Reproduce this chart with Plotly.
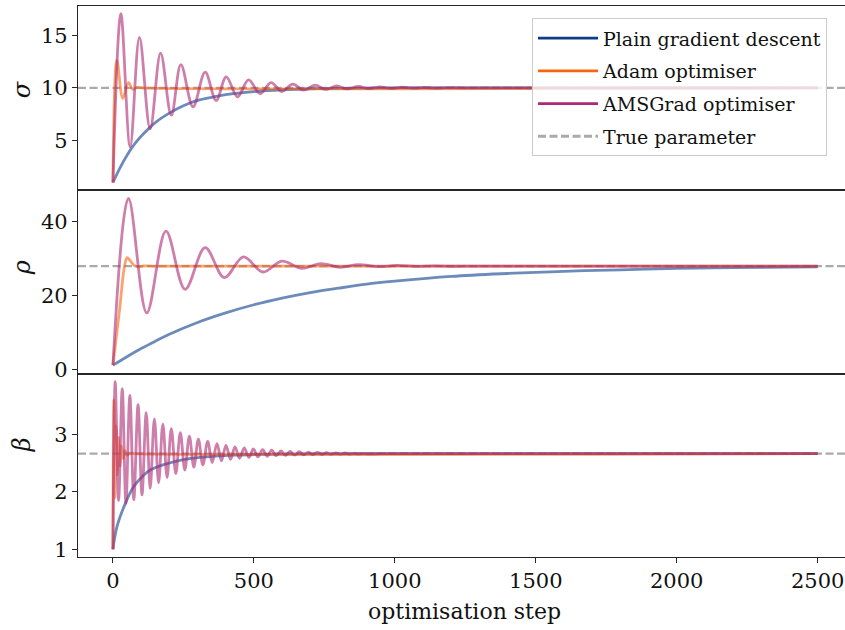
import plotly.graph_objects as go
from plotly.subplots import make_subplots

# ---------------- data ----------------
true_params = [10.0, 28.0, 8.0 / 3.0]
param_labels = ["σ", "ρ", "β"]
series_names = ["Plain gradient descent", "Adam optimiser", "AMSGrad optimiser", "True parameter"]

# sigma panel
gd_sigma_steps = [0, 25, 50, 75, 100, 150, 200, 250, 300, 350, 400, 500, 600, 700, 800, 1000, 2500]
gd_sigma_vals = [1.0, 2.4, 3.6, 4.6, 5.4, 6.7, 7.6, 8.3, 8.8, 9.1, 9.35, 9.65, 9.82, 9.9, 9.95, 9.99, 10.0]

adam_sigma_steps = [0, 14, 35, 55, 70, 85, 100, 2500]
adam_sigma_vals = [1.0, 12.6, 9.0, 10.5, 9.85, 10.05, 10.0, 10.0]

ams_sigma_steps = [0, 28, 61, 94, 132, 169, 207, 241, 284, 327, 366, 402, 442, 481, 522, 561,
                   599, 638, 676, 717, 753, 794, 830, 871, 906, 948, 985, 1025, 1065, 1105,
                   1145, 1185, 1250, 2500]
ams_sigma_vals = [1.0, 17.05, 4.4, 14.8, 6.1, 13.3, 7.4, 12.2, 8.2, 11.5, 8.8, 11.05, 9.15, 10.75,
                  9.45, 10.5, 9.65, 10.35, 9.78, 10.25, 9.85, 10.18, 9.9, 10.13, 9.93, 10.09, 9.95,
                  10.06, 9.97, 10.04, 9.98, 10.02, 10.0, 10.0]

# rho panel
gd_rho_steps = [0, 50, 100, 150, 200, 300, 400, 500, 600, 700, 800, 900, 1000, 1200, 1400, 1600,
                1800, 2000, 2200, 2500]
gd_rho_vals = [1.1, 3.4, 5.6, 7.6, 9.5, 12.7, 15.3, 17.5, 19.3, 20.8, 22.0, 23.1, 23.9, 25.2, 26.0,
               26.6, 27.0, 27.4, 27.6, 27.8]

adam_rho_steps = [0, 24, 40, 50, 60, 75, 90, 110, 140, 2500]
adam_rho_vals = [1.1, 16.5, 27.5, 30.3, 29.6, 28.2, 27.8, 28.05, 28.0, 28.0]

ams_rho_steps = [0, 55, 120, 188, 256, 327, 395, 463, 532, 599, 670, 737, 806, 871, 942, 1007,
                 1075, 1140, 1210, 1280, 1400, 2500]
ams_rho_vals = [1.1, 46.4, 15.3, 37.5, 21.7, 33.0, 24.9, 30.5, 26.4, 29.35, 27.4, 28.7, 27.7, 28.4,
                27.85, 28.2, 27.92, 28.08, 27.97, 28.02, 28.0, 28.0]

# beta panel
gd_beta_steps = [0, 14, 44, 73, 103, 132, 191, 250, 309, 428, 550, 700, 1000, 2500]
gd_beta_vals = [1.0, 1.39, 1.80, 2.09, 2.26, 2.38, 2.49, 2.56, 2.60, 2.64, 2.655, 2.663, 2.666, 2.667]

adam_beta_steps = [0, 3, 7, 11, 15, 20, 25, 30, 36, 42, 50, 60, 75, 2500]
adam_beta_vals = [1.0, 3.6, 1.9, 3.15, 2.3, 2.95, 2.45, 2.8, 2.58, 2.72, 2.64, 2.675, 2.667, 2.667]

ams_beta_steps = [0, 8, 20, 33, 46, 60, 74, 89, 103, 118, 132, 147, 162, 177, 192, 207, 223,
                  239, 255, 271, 287, 303, 319, 336, 352, 369, 385, 401, 417, 433, 449, 466,
                  482, 498, 514, 531, 547, 563, 579, 596, 612, 628, 644, 661, 677, 693, 709,
                  726, 742, 758, 774, 791, 807, 823, 839, 856, 872, 888, 904, 950, 2500]
ams_beta_vals = [1.0, 3.92, 1.85, 3.8, 1.8, 3.68, 1.86, 3.52, 1.95, 3.38, 2.06, 3.27, 2.16, 3.18,
                 2.25, 3.1, 2.32, 3.03, 2.38, 2.97, 2.43, 2.92, 2.47, 2.88, 2.51, 2.84, 2.54, 2.81,
                 2.565, 2.785, 2.585, 2.765, 2.60, 2.75, 2.61, 2.735, 2.62, 2.725, 2.628, 2.715,
                 2.635, 2.706, 2.64, 2.70, 2.645, 2.694, 2.65, 2.689, 2.653, 2.684, 2.656, 2.68,
                 2.659, 2.677, 2.66, 2.674, 2.662, 2.672, 2.663, 2.667, 2.667]

y_ranges = [[0.26, 17.78], [-1.2, 48.6], [0.866, 4.06]]
y_ticks = [[5, 10, 15], [0, 20, 40], [1, 2, 3]]
x_ticks = [0, 500, 1000, 1500, 2000, 2500]

panels = [
    [(gd_sigma_steps, gd_sigma_vals), (adam_sigma_steps, adam_sigma_vals), (ams_sigma_steps, ams_sigma_vals)],
    [(gd_rho_steps, gd_rho_vals), (adam_rho_steps, adam_rho_vals), (ams_rho_steps, ams_rho_vals)],
    [(gd_beta_steps, gd_beta_vals), (adam_beta_steps, adam_beta_vals), (ams_beta_steps, ams_beta_vals)],
]

# ---------------- styling ----------------
solid_colors = ["#0b3d8c", "#f7650f", "#ae2873"]
alpha_colors = ["rgba(11,61,140,0.6)", "rgba(247,101,15,0.6)", "rgba(174,40,115,0.6)"]
true_color = "#aaaaaa"
FONT = "DejaVu Serif, Liberation Serif, Times New Roman, serif"
FS = 21
AX = "#262626"

fig = make_subplots(rows=3, cols=1, shared_xaxes=True, vertical_spacing=0)

for r, panel in enumerate(panels, start=1):
    for k, (xs, ys) in enumerate(panel):
        fig.add_trace(go.Scatter(x=xs, y=ys, mode="lines", showlegend=False,
                                 line=dict(color=alpha_colors[k], width=2.8, shape="spline", smoothing=1.0),
                                 hoverinfo="skip"), row=r, col=1)
    fig.add_hline(y=true_params[r - 1], row=r, col=1, layer="below",
                  line=dict(color=true_color, width=2.4, dash="8px,3.5px"))

# legend-only entries (each in its own group so the group gap spaces them out)
for k in range(3):
    fig.add_trace(go.Scatter(x=[None], y=[None], mode="lines", name=series_names[k],
                             legendgroup="g%d" % k,
                             line=dict(color=solid_colors[k], width=2.8)), row=1, col=1)
fig.add_trace(go.Scatter(x=[None], y=[None], mode="lines", name=series_names[3], legendgroup="g3",
                         line=dict(color=true_color, width=2.8, dash="8px,3.5px")), row=1, col=1)

W, H = 845, 630
L, T, B = 78, 6, 73
plot_h = H - T - B
top_px, d1, d2, bot_px = 6, 190, 373.3, 556.7
def frac(px):
    return (bot_px - px) / plot_h
domains = [[frac(d1), 1.0], [frac(d2), frac(d1)], [0.0, frac(d2)]]

x_range = [-124, 2597]
for r in range(1, 4):
    fig.update_xaxes(row=r, col=1, range=x_range, showline=True, mirror=True, linecolor=AX, linewidth=1.2,
                     showgrid=False, zeroline=False,
                     ticks="outside" if r == 3 else "", ticklen=5, tickwidth=1.1, tickcolor=AX,
                     tickvals=x_ticks, showticklabels=(r == 3), ticklabeloverflow="allow",
                     tickfont=dict(family=FONT, size=FS, color="#111"))
    fig.update_yaxes(row=r, col=1, range=y_ranges[r - 1], domain=domains[r - 1],
                     showline=True, mirror=False, linecolor=AX, linewidth=1.2,
                     showgrid=False, zeroline=False, ticks="outside", ticklen=5, tickwidth=1.1,
                     tickcolor=AX, tickvals=y_ticks[r - 1],
                     tickfont=dict(family=FONT, size=FS, color="#111"))

annotations = []
label_y_px = [90, 268, 445]
for i, lab in enumerate(param_labels):
    annotations.append(dict(text="<i>%s</i>" % lab, xref="paper", yref="paper", x=0, y=frac(label_y_px[i]),
                            xanchor="center", yanchor="middle", xshift=22 - L, textangle=-90,
                            showarrow=False, font=dict(family=FONT, size=FS + 3, color="#111")))
annotations.append(dict(text="optimisation step", xref="paper", yref="paper", x=(465 - L) / (W - L), y=0,
                        xanchor="center", yanchor="middle", yshift=-(611 - bot_px), showarrow=False,
                        font=dict(family=FONT, size=FS + 1, color="#111")))

fig.update_layout(
    width=W, height=H, margin=dict(l=L, r=0, t=T, b=B, autoexpand=False),
    paper_bgcolor="white", plot_bgcolor="white",
    font=dict(family=FONT, size=FS, color="#111"),
    annotations=annotations,
    legend=dict(x=(532 - L) / (W - L), y=frac(18), xanchor="left", yanchor="top",
                bgcolor="rgba(255,255,255,0.8)", bordercolor="#cccccc", borderwidth=1,
                font=dict(family=FONT, size=19, color="#111"), itemwidth=60, tracegroupgap=5),
)

fig.write_html("out.html")
